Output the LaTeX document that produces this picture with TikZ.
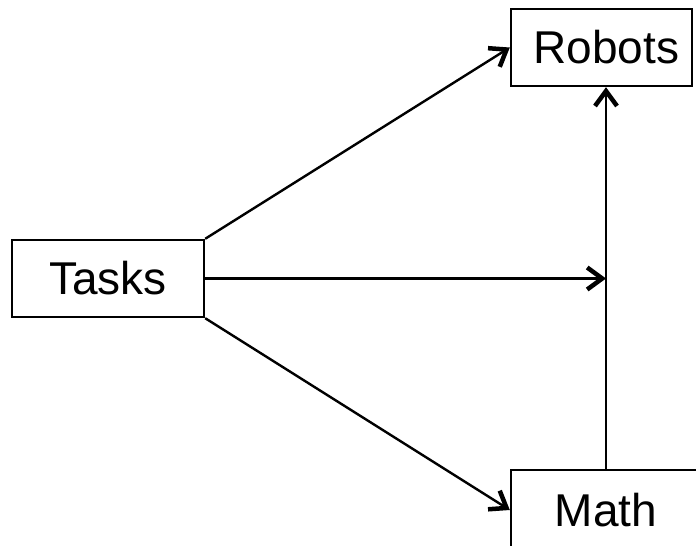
\documentclass[tikz,border=0pt]{standalone}
\usepackage{fontspec}
\setmainfont{Liberation Sans}
\usetikzlibrary{arrows.meta}

\begin{document}
\begin{tikzpicture}[x=1pt, y=-1pt, line width=2.4pt,
		box/.style={draw, line width=2.4pt, inner sep=0pt, font=\fontsize{46}{55}\selectfont},
		>={Straight Barb[length=15pt, width=22pt, line width=4.5pt]}]
		\useasboundingbox (0,0) rectangle (696,546);
		\clip (0,0) rectangle (696,546);
		\draw (108,278.5) node[box, minimum width=192pt, minimum height=77pt](tasks){Tasks};
		\draw (601.5,47.5) node[box, minimum width=181pt, minimum height=77pt](robots){\hspace{10pt}Robots};
		\draw (606,510) node[box, minimum width=190pt, minimum height=80pt](math){Math};
		% links out of the tasks box
		\draw[->] (tasks.north east) -- (robots.west);
		\draw[->] (tasks.south east) -- (math.west);
		\draw[->] (tasks.east) -- (tasks.east -| math.north);
		% math feeds up into robots
		\draw[->] (math.north) -- (math.north |- robots.south);
	\end{tikzpicture}
\end{document}
